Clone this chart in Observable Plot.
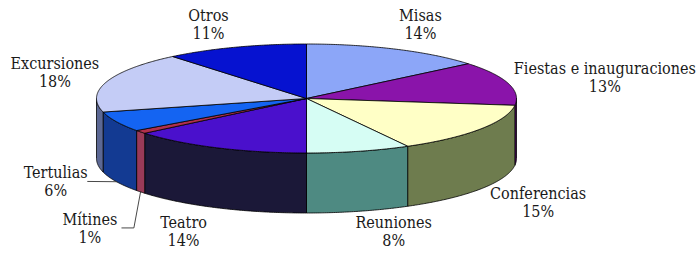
<!DOCTYPE html>
<html>
<head>
<meta charset="utf-8">
<script src="https://cdn.jsdelivr.net/npm/d3@7"></script>
<script src="https://cdn.jsdelivr.net/npm/@observablehq/plot@0.6"></script>
<style>
  html, body { margin: 0; padding: 0; background: #fff; }
  #chart { width: 698px; height: 253px; }
</style>
</head>
<body>
<div id="chart"></div>
<script>
// ---- data ----
const categories = ["Misas", "Fiestas e inauguraciones", "Conferencias", "Reuniones", "Teatro", "Mítines", "Tertulias", "Excursiones", "Otros"];
const values = [14, 13, 15, 8, 14, 1, 6, 18, 11];
const pctLabels = ["14%", "13%", "15%", "8%", "14%", "1%", "6%", "18%", "11%"];

// ---- styles ----
const topColors  = ["#8ca6f8", "#8a14aa", "#ffffc6", "#d6fdf4", "#4a10cc", "#b0304c", "#1464f2", "#c4ccf6", "#0612d0"];
const sideColors = ["#5a6ca8", "#5a0a70", "#6e7c4e", "#4e8a82", "#1b1838", "#9a3a58", "#133a92", "#5c6894", "#06108a"];
const labelNudgeX = [-13, 12, -15, 13, 4, 19, 19, 32, 3];
const labelNudgeY = [-4, 0, 0, -2, 3, 22, -10, -2, -1];

// ---- geometry / layout ----
const W = 698, H = 253;
const CX = 306, CY = 98, RX = 210, RY = 54.5, DEPTH = 60;
const D = DEPTH / RY;
const LR = 1.42;

const arcs = d3.pie().sort(null).value(d => d)(values);

const topPts = [], sidePts = [], labels = [], leaders = [];
const step = Math.PI / 360;
arcs.forEach((a, i) => {
  const a0 = a.startAngle, a1 = a.endAngle;
  const id = "t" + i;
  topPts.push({id, x: 0, y: 0, c: topColors[i]});
  const n = Math.max(2, Math.ceil((a1 - a0) / step));
  for (let k = 0; k <= n; k++) {
    const t = a0 + (a1 - a0) * k / n;
    topPts.push({id, x: Math.sin(t), y: Math.cos(t), c: topColors[i]});
  }
  topPts.push({id, x: 0, y: 0, c: topColors[i]});

  const s0 = Math.max(a0, Math.PI / 2), s1 = Math.min(a1, 3 * Math.PI / 2);
  if (s1 > s0) {
    const sid = "s" + i;
    const m = Math.max(2, Math.ceil((s1 - s0) / step));
    const upper = [], lower = [];
    for (let k = 0; k <= m; k++) {
      const t = s0 + (s1 - s0) * k / m;
      upper.push({id: sid, x: Math.sin(t), y: Math.cos(t), c: sideColors[i]});
      lower.push({id: sid, x: Math.sin(t), y: Math.cos(t) - D, c: sideColors[i]});
    }
    sidePts.push(...upper, ...lower.reverse(), upper[0]);
  }

  const mid = (a0 + a1) / 2;
  const front = Math.cos(mid) < 0;
  const lx = LR * Math.sin(mid) + labelNudgeX[i] / RX;
  const ly = LR * Math.cos(mid) - (front ? D : 0) - labelNudgeY[i] / RY;
  labels.push({x: lx, y: ly, text: categories[i] + "\n" + pctLabels[i]});

  if (values[i] < 7) {
    const rimX = Math.sin(mid), rimY = Math.cos(mid) - D;
    const lid = "l" + i;
    const sx = lx + 32 / RX;
    leaders.push({id: lid, x: sx, y: ly});
    if (values[i] < 3) leaders.push({id: lid, x: sx + 12 / RX, y: ly});
    leaders.push({id: lid, x: rimX, y: rimY});
  }
});

const chart = Plot.plot({
  width: W,
  height: H,
  margin: 0,
  x: {domain: [-CX / RX, (W - CX) / RX], range: [0, W], axis: null},
  y: {domain: [(CY - H) / RY, CY / RY], range: [H, 0], axis: null},
  color: {type: "identity"},
  style: {background: "#fff", overflow: "visible"},
  marks: [
    Plot.line(sidePts, {x: "x", y: "y", z: "id", fill: "c", stroke: "#000", strokeWidth: 0.8, strokeLinejoin: "round"}),
    Plot.line(topPts, {x: "x", y: "y", z: "id", fill: "c", stroke: "#000", strokeWidth: 0.8, strokeLinejoin: "round"}),
    Plot.line(leaders, {x: "x", y: "y", z: "id", stroke: "#333", strokeWidth: 0.9}),
    Plot.text(labels, {x: "x", y: "y", text: "text", fontFamily: "'DejaVu Serif Condensed', 'DejaVu Serif'", fontSize: 16, lineHeight: 1.12, fill: "#1a1a1a"})
  ]
});
document.getElementById("chart").appendChild(chart);
</script>
</body>
</html>
